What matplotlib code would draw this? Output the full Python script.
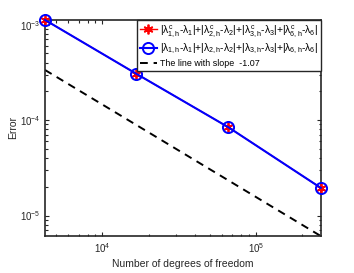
import numpy as np
import matplotlib
matplotlib.use("Agg")
import matplotlib.pyplot as plt
from matplotlib.ticker import LogLocator, NullFormatter

plt.rcParams['font.family'] = ['Liberation Sans', 'DejaVu Sans']
plt.rcParams['mathtext.fontset'] = 'custom'
plt.rcParams['mathtext.rm'] = 'Liberation Sans'
plt.rcParams['mathtext.it'] = 'Liberation Sans'

# degrees of freedom and errors
dofs = [4225, 16641, 66049, 263169]
err_corrected = [1.12e-3, 3.05e-4, 8.4e-5, 1.95e-5]
err_plain = [1.12e-3, 3.05e-4, 8.4e-5, 1.95e-5]

# reference line (endpoints)
ref_x = [4225, 263169]
ref_y = [3.35e-4, 6.1e-6]

lab_c = (r'$|\lambda^c_{1,h}$-$\lambda_1|$+$|\lambda^c_{2,h}$-$\lambda_2|$+'
         r'$|\lambda^c_{3,h}$-$\lambda_3|$+$|\lambda^c_{6,h}$-$\lambda_6|$')
lab_p = (r'$|\lambda_{1,h}$-$\lambda_1|$+$|\lambda_{2,h}$-$\lambda_2|$+'
         r'$|\lambda_{3,h}$-$\lambda_3|$+$|\lambda_{6,h}$-$\lambda_6|$')
lab_ref = 'The line with slope  -1.07'

fig = plt.figure(figsize=(3.54, 2.73), dpi=100)
ax = fig.add_axes([0.127, 0.1355, 0.779, 0.7915])

ax.loglog(dofs, err_corrected, color='red', marker=(6, 2, 0), markersize=7,
          markeredgewidth=1.3, lw=1.0, label=lab_c, clip_on=False, zorder=3)
ax.loglog(dofs, err_plain, color='blue', marker='o', markersize=8,
          markerfacecolor='none', markeredgewidth=1.4, lw=1.5,
          label=lab_p, clip_on=False, zorder=4)
ax.loglog(ref_x, ref_y, 'k--', lw=1.4, dashes=(4, 3), label=lab_ref)

ax.set_xlim(4225, 263169)
ax.set_ylim(6.1e-6, 1.12e-3)

ax.xaxis.set_major_locator(LogLocator(base=10))
ax.yaxis.set_major_locator(LogLocator(base=10))
ax.xaxis.set_minor_locator(LogLocator(base=10, subs=np.arange(2, 10)))
ax.yaxis.set_minor_locator(LogLocator(base=10, subs=np.arange(2, 10)))
ax.xaxis.set_minor_formatter(NullFormatter())
ax.yaxis.set_minor_formatter(NullFormatter())

ax.tick_params(which='both', direction='in', top=True, right=True,
               labelsize=7, width=0.8, colors='#262626')
ax.tick_params(which='major', length=3)
ax.tick_params(which='minor', length=1.8)
for s in ax.spines.values():
    s.set_linewidth(1.2)
    s.set_color('#262626')

ax.set_xlabel('Number of degrees of freedom', fontsize=7.5, color='#262626', labelpad=3)
ax.set_ylabel('Error', fontsize=7.5, color='#262626', labelpad=1)

leg = ax.legend(loc='upper right', bbox_to_anchor=(1.0, 1.0), borderaxespad=0,
                fontsize=6.4, fancybox=False, framealpha=1, edgecolor='#262626',
                handlelength=2.0, handletextpad=0.3, borderpad=0.3,
                labelspacing=0.35)
leg.get_frame().set_linewidth(1.0)
for t in leg.get_texts()[:2]:
    t.set_fontsize(7.4)

fig.savefig('out.png', dpi=100)
